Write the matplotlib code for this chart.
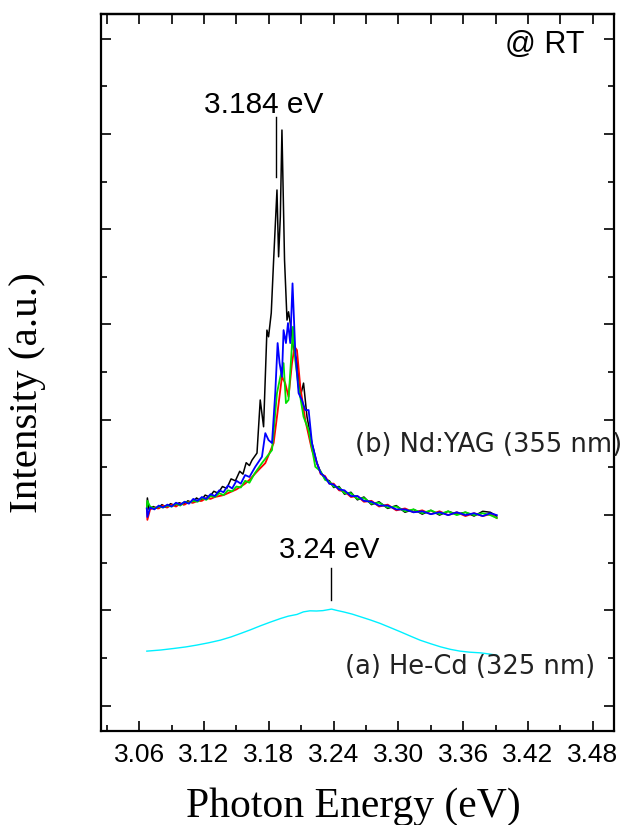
import matplotlib.pyplot as plt
from matplotlib.ticker import FixedLocator

# x-axis ticks (eV)
major_x = [3.06, 3.12, 3.18, 3.24, 3.30, 3.36, 3.42, 3.48]
minor_x = [3.03, 3.09, 3.15, 3.21, 3.27, 3.33, 3.39, 3.45]
major_y = [0, 1, 2, 3, 4, 5, 6, 7]
minor_y = [0.5, 1.5, 2.5, 3.5, 4.5, 5.5, 6.5]

# (a) He-Cd (325 nm) excitation
hecd_e = [3.067, 3.080, 3.092, 3.103, 3.113, 3.124, 3.135, 3.145, 3.154, 3.163,
          3.172, 3.181, 3.191, 3.198, 3.206, 3.212, 3.218, 3.224, 3.230, 3.238,
          3.243, 3.249, 3.257, 3.265, 3.274, 3.283, 3.292, 3.302, 3.311, 3.320,
          3.330, 3.339, 3.348, 3.357, 3.366, 3.376, 3.384, 3.391]
hecd_v = [0.573, 0.585, 0.601, 0.617, 0.636, 0.660, 0.688, 0.722, 0.759, 0.797,
          0.838, 0.876, 0.916, 0.940, 0.958, 0.985, 0.996, 0.994, 0.998, 1.014,
          1.000, 0.985, 0.962, 0.933, 0.900, 0.864, 0.822, 0.775, 0.731, 0.688,
          0.650, 0.618, 0.592, 0.573, 0.562, 0.555, 0.543, 0.531]

# (b) Nd:YAG (355 nm) excitation, four spectra
black_e = [3.067, 3.0675, 3.069, 3.073, 3.077, 3.081, 3.085, 3.089, 3.093, 3.097,
           3.101, 3.105, 3.109, 3.113, 3.117, 3.121, 3.125, 3.129, 3.133, 3.137,
           3.141, 3.145, 3.149, 3.153, 3.156, 3.159, 3.162, 3.1644, 3.169, 3.172,
           3.1751, 3.1782, 3.1797, 3.1822, 3.1844, 3.1875, 3.1890, 3.1906, 3.1921, 3.1945,
           3.1968, 3.1982, 3.1998, 3.2029, 3.2060, 3.2091, 3.2121, 3.2153, 3.2199, 3.2245,
           3.228, 3.232, 3.236, 3.240, 3.245, 3.250, 3.256, 3.262, 3.268, 3.275,
           3.282, 3.290, 3.298, 3.306, 3.314, 3.322, 3.330, 3.338, 3.346, 3.354,
           3.362, 3.370, 3.378, 3.385, 3.391]
black_v = [2.07, 2.18, 2.06, 2.09, 2.07, 2.11, 2.08, 2.12, 2.10, 2.13,
           2.11, 2.15, 2.13, 2.18, 2.15, 2.21, 2.19, 2.25, 2.23, 2.30,
           2.28, 2.38, 2.36, 2.46, 2.43, 2.55, 2.52, 2.577, 2.651, 3.208,
           2.927, 3.941, 3.871, 4.120, 4.676, 5.411, 4.710, 5.130, 6.040, 4.676,
           4.046, 4.133, 4.015, 3.731, 3.626, 3.241, 3.385, 3.032, 2.756, 2.546,
           2.45, 2.38, 2.36, 2.29, 2.30, 2.22, 2.24, 2.16, 2.19, 2.11,
           2.14, 2.07, 2.10, 2.03, 2.06, 2.01, 2.05, 2.00, 2.04, 2.01,
           2.03, 1.99, 2.04, 2.03, 1.99]

red_e = [3.067, 3.0675, 3.070, 3.074, 3.078, 3.082, 3.086, 3.090, 3.094, 3.098,
         3.102, 3.106, 3.110, 3.114, 3.118, 3.122, 3.126, 3.130, 3.134, 3.138,
         3.142, 3.146, 3.150, 3.154, 3.158, 3.162, 3.166, 3.171, 3.1767, 3.1844,
         3.1875, 3.1921, 3.1951, 3.1982, 3.2014, 3.2038, 3.2060, 3.2091, 3.2137, 3.2199,
         3.2245, 3.228, 3.232, 3.236, 3.240, 3.245, 3.250, 3.256, 3.262, 3.268,
         3.275, 3.282, 3.290, 3.298, 3.306, 3.314, 3.322, 3.330, 3.338, 3.346,
         3.354, 3.362, 3.370, 3.378, 3.385, 3.391]
red_v = [2.07, 1.95, 2.06, 2.08, 2.07, 2.10, 2.08, 2.11, 2.09, 2.12,
         2.11, 2.14, 2.13, 2.15, 2.15, 2.18, 2.17, 2.19, 2.20, 2.21,
         2.23, 2.25, 2.27, 2.30, 2.33, 2.37, 2.42, 2.48, 2.546, 2.756,
         3.032, 3.451, 3.385, 3.241, 3.595, 3.766, 3.731, 3.346, 2.997, 2.682,
         2.546, 2.43, 2.41, 2.33, 2.33, 2.26, 2.25, 2.19, 2.20, 2.14,
         2.15, 2.09, 2.11, 2.05, 2.07, 2.03, 2.05, 2.01, 2.04, 2.00,
         2.03, 1.99, 2.02, 1.99, 2.01, 1.97]

green_e = [3.067, 3.0675, 3.070, 3.074, 3.078, 3.082, 3.086, 3.090, 3.094, 3.098,
           3.102, 3.106, 3.110, 3.114, 3.118, 3.122, 3.126, 3.130, 3.134, 3.138,
           3.142, 3.146, 3.150, 3.154, 3.158, 3.162, 3.167, 3.1736, 3.1829, 3.1875,
           3.1906, 3.1936, 3.1958, 3.1982, 3.2007, 3.2023, 3.2044, 3.2075, 3.2121, 3.2168,
           3.2230, 3.228, 3.232, 3.236, 3.240, 3.245, 3.250, 3.256, 3.262, 3.268,
           3.275, 3.282, 3.290, 3.298, 3.306, 3.314, 3.322, 3.330, 3.338, 3.346,
           3.354, 3.362, 3.370, 3.378, 3.385, 3.391]
green_v = [2.07, 2.15, 2.09, 2.07, 2.09, 2.08, 2.10, 2.09, 2.12, 2.10,
           2.14, 2.13, 2.15, 2.14, 2.18, 2.16, 2.20, 2.19, 2.23, 2.21,
           2.26, 2.25, 2.30, 2.29, 2.36, 2.34, 2.44, 2.546, 2.682, 3.280,
           3.451, 3.595, 3.175, 3.208, 3.661, 3.976, 3.626, 3.346, 3.032, 2.892,
           2.507, 2.46, 2.37, 2.35, 2.30, 2.29, 2.23, 2.23, 2.17, 2.18,
           2.12, 2.13, 2.08, 2.09, 2.04, 2.06, 2.02, 2.05, 2.01, 2.04,
           2.00, 2.03, 2.00, 2.02, 2.00, 1.97]

blue_e = [3.067, 3.0675, 3.070, 3.074, 3.078, 3.082, 3.086, 3.090, 3.094, 3.098,
          3.102, 3.106, 3.110, 3.114, 3.118, 3.122, 3.126, 3.130, 3.134, 3.138,
          3.142, 3.146, 3.150, 3.154, 3.158, 3.162, 3.1674, 3.1736, 3.1767, 3.1797,
          3.1829, 3.1859, 3.1881, 3.1899, 3.1921, 3.1936, 3.1958, 3.1977, 3.1998, 3.2019,
          3.2044, 3.2075, 3.2106, 3.2137, 3.2168, 3.2199, 3.2245, 3.228, 3.232, 3.236,
          3.240, 3.245, 3.250, 3.256, 3.262, 3.268, 3.275, 3.282, 3.290, 3.298,
          3.306, 3.314, 3.322, 3.330, 3.338, 3.346, 3.354, 3.362, 3.370, 3.378,
          3.385, 3.391]
blue_v = [2.07, 1.98, 2.08, 2.06, 2.10, 2.08, 2.11, 2.09, 2.13, 2.11,
          2.14, 2.12, 2.17, 2.15, 2.19, 2.17, 2.22, 2.20, 2.26, 2.24,
          2.31, 2.28, 2.36, 2.33, 2.42, 2.40, 2.507, 2.612, 2.860, 2.787,
          2.756, 3.280, 3.805, 3.595, 3.451, 3.941, 3.805, 4.015, 3.805, 4.431,
          3.731, 3.280, 3.208, 3.102, 3.102, 2.756, 2.546, 2.44, 2.40, 2.33,
          2.32, 2.27, 2.26, 2.20, 2.20, 2.15, 2.14, 2.10, 2.10, 2.06,
          2.06, 2.03, 2.04, 2.01, 2.03, 2.00, 2.03, 2.00, 2.02, 1.99,
          2.02, 2.00]

fig = plt.figure(figsize=(6.21, 8.25), dpi=100)
ax = fig.add_axes([0.1634, 0.1145, 0.8261, 0.8685])

ax.plot(hecd_e, hecd_v, color='#00f0ff', lw=1.0)
ax.plot(black_e, black_v, color='black', lw=1.1)
ax.plot(red_e, red_v, color='#ff0000', lw=1.3)
ax.plot(green_e, green_v, color='#00e000', lw=1.3)
ax.plot(blue_e, blue_v, color='#0000ff', lw=1.3)

ax.set_xlim(3.025, 3.50)
ax.set_ylim(-0.26, 7.257)

# peak markers
ax.plot([3.1866, 3.1866], [5.55, 6.18], color='black', lw=1.0)
ax.plot([3.2378, 3.2378], [1.108, 1.444], color='black', lw=1.0)

sans = 'Liberation Sans'
ax.text(3.1748, 6.30, '3.184 eV', fontsize=21.5, family=sans, ha='center', va='center')
ax.text(3.2361, 1.636, '3.24 eV', fontsize=21, family=sans, ha='center', va='center')
ax.text(3.4725, 6.93, '@ RT', fontsize=22, family=sans, ha='right', va='center')
ax.text(3.2593, 2.733, '(b) Nd:YAG (355 nm)', fontsize=18.5, family='DejaVu Sans',
        color='#222222', ha='left', va='center')
ax.text(3.2507, 0.405, '(a) He-Cd (325 nm)', fontsize=18.5, family='DejaVu Sans',
        color='#222222', ha='left', va='center')

ax.xaxis.set_major_locator(FixedLocator(major_x))
ax.xaxis.set_minor_locator(FixedLocator(minor_x))
ax.yaxis.set_major_locator(FixedLocator(major_y))
ax.yaxis.set_minor_locator(FixedLocator(minor_y))
ax.set_xticklabels(['%.2f' % t for t in major_x], fontsize=19, family=sans)
ax.set_yticklabels([])

ax.tick_params(which='major', direction='in', length=7.5, width=1.2,
               left=True, right=True, bottom=True, top=False, pad=9)
ax.tick_params(which='minor', direction='in', length=4.5, width=1.2,
               left=True, right=True, bottom=True, top=False)

# top ticks, all of one length
sec = ax.secondary_xaxis('top')
sec.set_xticks(sorted(major_x + minor_x))
sec.tick_params(direction='in', length=7.5, width=1.2, labeltop=False)
sec.spines['top'].set_linewidth(1.6)

for s in ax.spines.values():
    s.set_linewidth(1.6)

fig.text(353.5 / 621, 0.0101, 'Photon Energy (eV)', fontsize=30,
         family='Liberation Serif', ha='center', va='baseline')
fig.text(28 / 621, 1 - 392.5 / 825, 'Intensity (a.u.)', fontsize=29.5,
         family='Liberation Serif', ha='center', va='center', rotation=90)

fig.savefig('out.png', dpi=100)
